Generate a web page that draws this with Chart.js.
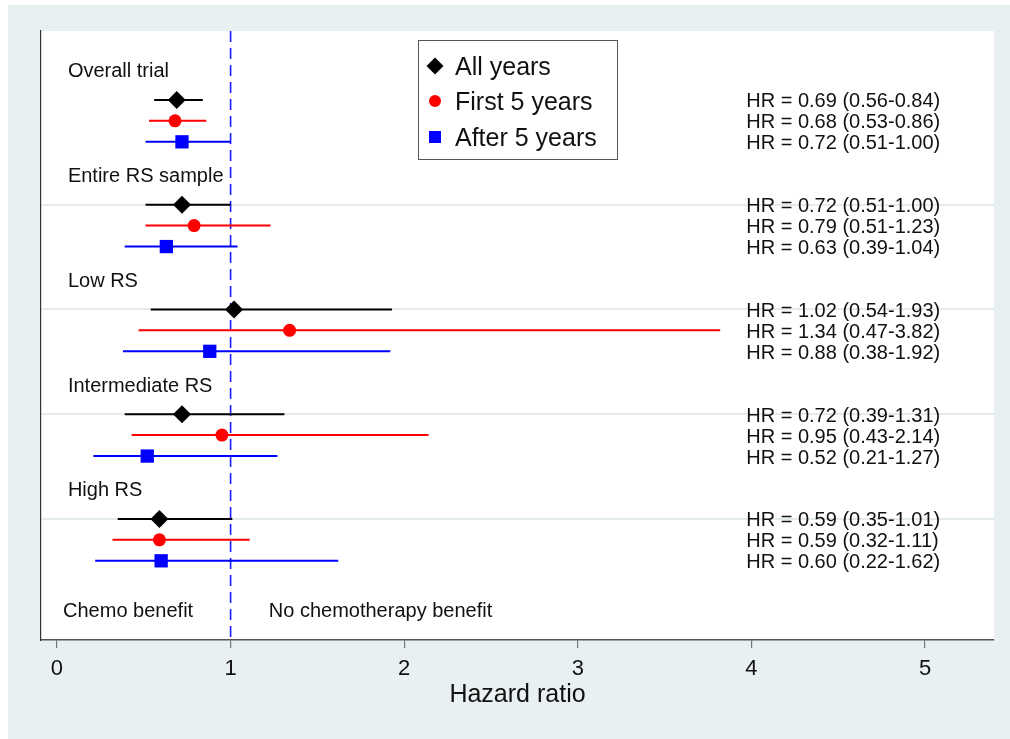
<!DOCTYPE html>
<html>
<head>
<meta charset="utf-8">
<script src="https://cdn.jsdelivr.net/npm/chart.js@4/dist/chart.umd.min.js"></script>
<style>
  html, body { margin: 0; padding: 0; background: #ffffff; }
  #wrap { position: relative; width: 1010px; height: 739px; }
  canvas { display: block; }
</style>
</head>
<body>
<div id="wrap"><canvas id="c" width="1010" height="739"></canvas></div>
<script>
// ---- Data ----
const groups = ['Overall trial', 'Entire RS sample', 'Low RS', 'Intermediate RS', 'High RS'];
const seriesNames = ['All years', 'First 5 years', 'After 5 years'];
const hrAll   = [0.69, 0.72, 1.02, 0.72, 0.59];
const loAll   = [0.56, 0.51, 0.54, 0.39, 0.35];
const hiAll   = [0.84, 1.00, 1.93, 1.31, 1.01];
const hrFirst = [0.68, 0.79, 1.34, 0.95, 0.59];
const loFirst = [0.53, 0.51, 0.47, 0.43, 0.32];
const hiFirst = [0.86, 1.23, 3.82, 2.14, 1.11];
const hrAfter = [0.72, 0.63, 0.88, 0.52, 0.60];
const loAfter = [0.51, 0.39, 0.38, 0.21, 0.22];
const hiAfter = [1.00, 1.04, 1.92, 1.27, 1.62];
const xTicks = [0, 1, 2, 3, 4, 5];
const nullLine = 1;
const axisTitle = 'Hazard ratio';
const leftNote = 'Chemo benefit';
const rightNote = 'No chemotherapy benefit';

// ---- Build ----
const FONT = '"Liberation Sans", Arial, Helvetica, sans-serif';
const colors = ['#000000', '#ff0000', '#0000ff'];
const styles = ['rectRot', 'circle', 'rect'];
const radii = [9, 6.5, 9.4];
const series = [
  { hr: hrAll, lo: loAll, hi: hiAll },
  { hr: hrFirst, lo: loFirst, hi: hiFirst },
  { hr: hrAfter, lo: loAfter, hi: hiAfter }
];
const rowY = (g, s) => 5 * g + s;
const Y_MIN = -3.29, Y_MAX = 25.78;
const X_MIN = -0.092, X_MAX = 5.397;
const TXT_DY = 2;

const datasets = [];
// reference line at HR = 1
datasets.push({
  type: 'line',
  data: [{ x: nullLine, y: Y_MIN }, { x: nullLine, y: Y_MAX }],
  borderColor: '#1a1aff', borderWidth: 1.6, borderDash: [11, 6],
  pointRadius: 0, order: 20, clip: false
});
series.forEach((ser, s) => {
  const seg = [];
  groups.forEach((g, gi) => {
    seg.push({ x: ser.lo[gi], y: rowY(gi, s) });
    seg.push({ x: ser.hi[gi], y: rowY(gi, s) });
    seg.push({ x: ser.hi[gi], y: null });
  });
  datasets.push({
    type: 'line', data: seg, borderColor: colors[s], borderWidth: 2,
    pointRadius: 0, spanGaps: false, order: 10, tension: 0
  });
});
series.forEach((ser, s) => {
  datasets.push({
    type: 'scatter', label: seriesNames[s],
    data: ser.hr.map((v, gi) => ({ x: v, y: rowY(gi, s) })),
    backgroundColor: colors[s], borderColor: colors[s], borderWidth: 0,
    pointStyle: styles[s], pointRadius: radii[s], pointHoverRadius: radii[s],
    order: 0
  });
});

const bgPlugin = {
  id: 'bg',
  beforeDraw(chart) {
    const { ctx, chartArea: a } = chart;
    ctx.save();
    ctx.fillStyle = '#ffffff';
    ctx.fillRect(0, 0, chart.width, chart.height);
    ctx.fillStyle = '#e9f0f2';
    ctx.fillRect(8, 5, chart.width - 8, chart.height - 5);
    ctx.fillStyle = '#ffffff';
    ctx.fillRect(a.left, a.top, a.right - a.left, a.bottom - a.top);
    ctx.restore();
  }
};

const textPlugin = {
  id: 'texts',
  afterDatasetsDraw(chart) {
    const { ctx, scales: { x, y } } = chart;
    ctx.save();
    ctx.fillStyle = '#111111';
    ctx.font = '20px ' + FONT;
    ctx.textBaseline = 'middle';
    ctx.textAlign = 'left';
    groups.forEach((g, gi) => {
      ctx.fillText(g, x.getPixelForValue(0.063), y.getPixelForValue(5 * gi - 1.43) + TXT_DY);
      series.forEach((ser, s) => {
        const t = 'HR = ' + ser.hr[gi].toFixed(2) + ' (' + ser.lo[gi].toFixed(2) + '-' + ser.hi[gi].toFixed(2) + ')';
        ctx.fillText(t, x.getPixelForValue(3.97), y.getPixelForValue(rowY(gi, s)) + TXT_DY);
      });
    });
    ctx.fillText(leftNote, x.getPixelForValue(0.035), y.getPixelForValue(24.3) + TXT_DY);
    ctx.fillText(rightNote, x.getPixelForValue(1.22), y.getPixelForValue(24.3) + TXT_DY);

    // legend box
    const lx = 418, ly = 40, lw = 199, lh = 119;
    ctx.fillStyle = '#ffffff';
    ctx.fillRect(lx, ly, lw, lh);
    ctx.strokeStyle = '#555555';
    ctx.lineWidth = 1;
    ctx.strokeRect(lx + 0.5, ly + 0.5, lw, lh);
    const rows = [66, 101, 137];
    seriesNames.forEach((nm, s) => {
      const cx = 435, cy = rows[s];
      ctx.fillStyle = colors[s];
      ctx.beginPath();
      if (s === 0) {
        ctx.moveTo(cx, cy - 8.5); ctx.lineTo(cx + 8.5, cy); ctx.lineTo(cx, cy + 8.5); ctx.lineTo(cx - 8.5, cy); ctx.closePath();
      } else if (s === 1) {
        ctx.arc(cx, cy, 6, 0, Math.PI * 2);
      } else {
        ctx.rect(cx - 6, cy - 6, 12, 12);
      }
      ctx.fill();
      ctx.fillStyle = '#111111';
      ctx.font = '25px ' + FONT;
      ctx.fillText(nm, 455, cy + 2);
    });
    ctx.restore();
  }
};

Chart.defaults.font.family = FONT;
new Chart(document.getElementById('c'), {
  data: { datasets },
  plugins: [bgPlugin, textPlugin],
  options: {
    responsive: false,
    animation: false,
    devicePixelRatio: 1,
    layout: { padding: { left: 0, top: 31, right: 16, bottom: 0 } },
    plugins: { legend: { display: false }, tooltip: { enabled: false } },
    events: [],
    scales: {
      x: {
        type: 'linear', position: 'bottom', min: X_MIN, max: X_MAX,
        afterBuildTicks(scale) { scale.ticks = xTicks.map(v => ({ value: v })); },
        afterFit(scale) { scale.height = 99; },
        ticks: { color: '#111111', font: { size: 22, family: FONT }, padding: 8, maxRotation: 0, autoSkip: false },
        grid: { drawOnChartArea: false, drawTicks: true, tickLength: 8, color: '#777777', lineWidth: 1.2 },
        border: { display: true, color: '#555555', width: 1.5 },
        title: { display: true, text: axisTitle, color: '#111111', font: { size: 25, family: FONT }, padding: { top: 0, bottom: 29 } }
      },
      y: {
        type: 'linear', position: 'left', min: Y_MIN, max: Y_MAX, reverse: true,
        afterBuildTicks(scale) { scale.ticks = [5, 10, 15, 20].map(v => ({ value: v })); },
        afterFit(scale) { scale.width = 41; },
        ticks: { display: false },
        grid: { drawTicks: false, color: '#e3ebee', lineWidth: 2 },
        border: { display: true, color: '#333333', width: 1.2 }
      }
    }
  }
});
</script>
</body>
</html>
